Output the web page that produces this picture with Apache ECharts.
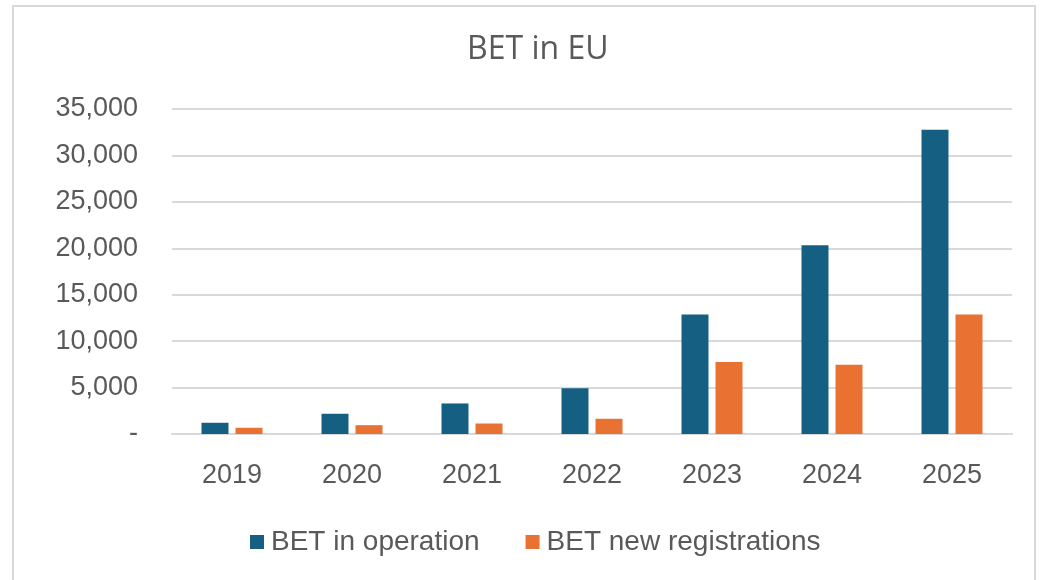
<!DOCTYPE html>
<html>
<head>
<meta charset="utf-8">
<script src="https://cdn.jsdelivr.net/npm/echarts@6/dist/echarts.min.js"></script>
<style>
  html, body { margin: 0; padding: 0; background: #fff; }
  #chart { width: 1043px; height: 580px; }
</style>
</head>
<body>
<div id="chart"></div>
<script>
const years = ['2019', '2020', '2021', '2022', '2023', '2024', '2025']
const inOperation = [1210, 2180, 3290, 4940, 12860, 20330, 32770]
const newRegistrations = [670, 950, 1130, 1640, 7750, 7470, 12860]

const textColor = '#595959'
const font = '"Liberation Sans", Arial, sans-serif'

const myEcharts = echarts.init(document.getElementById('chart'))
myEcharts.setOption({
  animation: false,
  title: {
    text: 'BET in EU',
    left: 462,
    top: 29,
    textStyle: { color: textColor, fontSize: 32, fontWeight: 'normal', fontFamily: '"Open Sans", sans-serif' }
  },
  graphic: [{
    type: 'rect',
    shape: { x: 13, y: 6, width: 1022, height: 590 },
    style: { fill: 'none', stroke: '#d9d9d9', lineWidth: 2 },
    silent: true
  }],
  legend: {
    top: 523,
    left: 245,
    itemWidth: 14,
    itemHeight: 14,
    itemGap: 46,
    icon: 'rect',
    textStyle: { color: textColor, fontSize: 28, fontFamily: font, padding: [0, 0, 0, 2] }
  },
  grid: { left: 172, right: 31, top: 109, bottom: 146 },
  xAxis: {
    type: 'category',
    data: years,
    axisLine: { lineStyle: { color: '#d9d9d9', width: 2 } },
    axisTick: { show: false },
    axisLabel: { color: textColor, fontSize: 27, fontFamily: font, margin: 28 }
  },
  yAxis: {
    type: 'value',
    min: 0,
    max: 35000,
    interval: 5000,
    axisLine: { show: false },
    axisTick: { show: false },
    splitLine: { lineStyle: { color: '#d9d9d9', width: 2 } },
    axisLabel: {
      color: textColor,
      fontSize: 27,
      fontFamily: font,
      margin: 34,
      formatter: v => v === 0 ? '-' : v.toLocaleString('en-US')
    }
  },
  series: [
    {
      name: 'BET in operation',
      type: 'bar',
      data: inOperation,
      barWidth: 27,
      barGap: '26%',
      itemStyle: { color: '#156082' }
    },
    {
      name: 'BET new registrations',
      type: 'bar',
      data: newRegistrations,
      barWidth: 27,
      itemStyle: { color: '#E97132' }
    }
  ]
})
</script>
</body>
</html>
